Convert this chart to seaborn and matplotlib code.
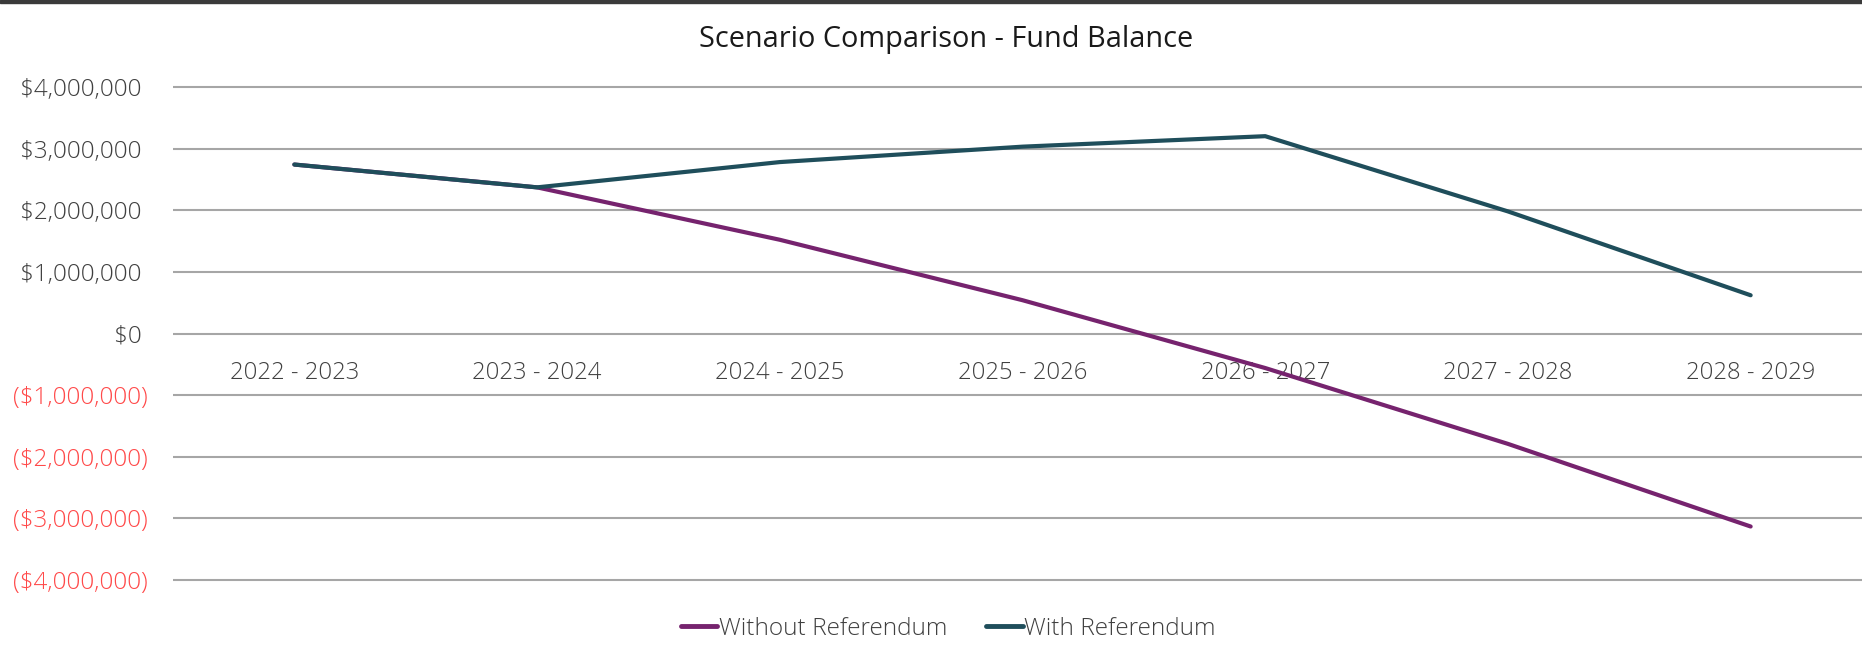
import pandas as pd
import matplotlib
matplotlib.use("Agg")
import matplotlib.pyplot as plt
import seaborn as sns
from matplotlib.patches import Rectangle

# Data
years = ["2022 - 2023", "2023 - 2024", "2024 - 2025", "2025 - 2026",
         "2026 - 2027", "2027 - 2028", "2028 - 2029"]
without_referendum = [2740000, 2370000, 1520000, 540000, -560000, -1790000, -3130000]
with_referendum = [2740000, 2370000, 2780000, 3030000, 3200000, 1980000, 620000]
series_names = ["Without Referendum", "With Referendum"]
y_ticks = [4000000, 3000000, 2000000, 1000000, 0,
           -1000000, -2000000, -3000000, -4000000]


def money(v):
    """Format like Excel accounting: negatives in parentheses,
    positives padded so the digits line up."""
    if v < 0:
        return "(${:,.0f})".format(-v)
    return "${:,.0f} ".format(v)


def build_frame():
    rows = []
    for name, values in zip(series_names, [without_referendum, with_referendum]):
        for year, v in zip(years, values):
            rows.append({"year": year, "balance": v, "scenario": name})
    return pd.DataFrame(rows)


def main():
    sns.set_theme(style="white")
    plt.rcParams["font.family"] = ["Open Sans", "DejaVu Sans"]
    plt.rcParams["font.weight"] = "light"

    df = build_frame()

    fig = plt.figure(figsize=(18.62, 6.51), dpi=100)
    ax = fig.add_axes([173 / 1862, 1 - 582 / 651, 1699 / 1862, 497 / 651])

    palette = {"Without Referendum": "#76236E", "With Referendum": "#1F4E5B"}
    sns.lineplot(data=df, x="year", y="balance", hue="scenario",
                 palette=palette, sort=False, linewidth=3.0, ax=ax,
                 legend=False)
    for line in ax.get_lines():
        line.set_solid_capstyle("round")

    ax.set_xlim(-0.5, 6.5)
    ax.set_ylim(-4030000, 4030000)

    # Gridlines
    for t in y_ticks:
        ax.axhline(t, color="#A6A6A6", linewidth=1.5, zorder=0)

    # Y labels
    ax.set_yticks(y_ticks, labels=[money(t) for t in y_ticks])
    for t, lab in zip(y_ticks, ax.get_yticklabels()):
        lab.set_color("#FF4A4A" if t < 0 else "#404040")
    ax.tick_params(axis="y", length=0, pad=18, labelsize=17.5)

    # Category labels sit next to the zero line
    ax.spines["bottom"].set_position(("data", 0))
    ax.tick_params(axis="x", length=0, pad=20, labelsize=17.2,
                   labelcolor="#404040")
    for s in ax.spines.values():
        s.set_visible(False)
    ax.set_xlabel("")
    ax.set_ylabel("")

    fig.suptitle("Scenario Comparison - Fund Balance", x=946 / 1862,
                 y=1 - 39 / 651, va="center", fontsize=20.8,
                 color="#1A1A1A", fontweight="normal")

    handles = [plt.Line2D([], [], color=palette[n], linewidth=3.5,
                          solid_capstyle="round") for n in series_names]
    fig.legend(handles, series_names, loc="center",
               bbox_to_anchor=(948 / 1862, 1 - 629 / 651), ncol=2,
               frameon=False, fontsize=17.6, handlelength=1.5,
               handletextpad=0.05, columnspacing=1.6,
               labelcolor="#404040")

    # dark border line along the top edge
    fig.patches.append(Rectangle((0, 1 - 3 / 651), 1, 3 / 651,
                                 transform=fig.transFigure,
                                 color="#3A3A3A", zorder=10))

    fig.savefig("out.png", dpi=100)
    plt.close(fig)


if __name__ == "__main__":
    main()
